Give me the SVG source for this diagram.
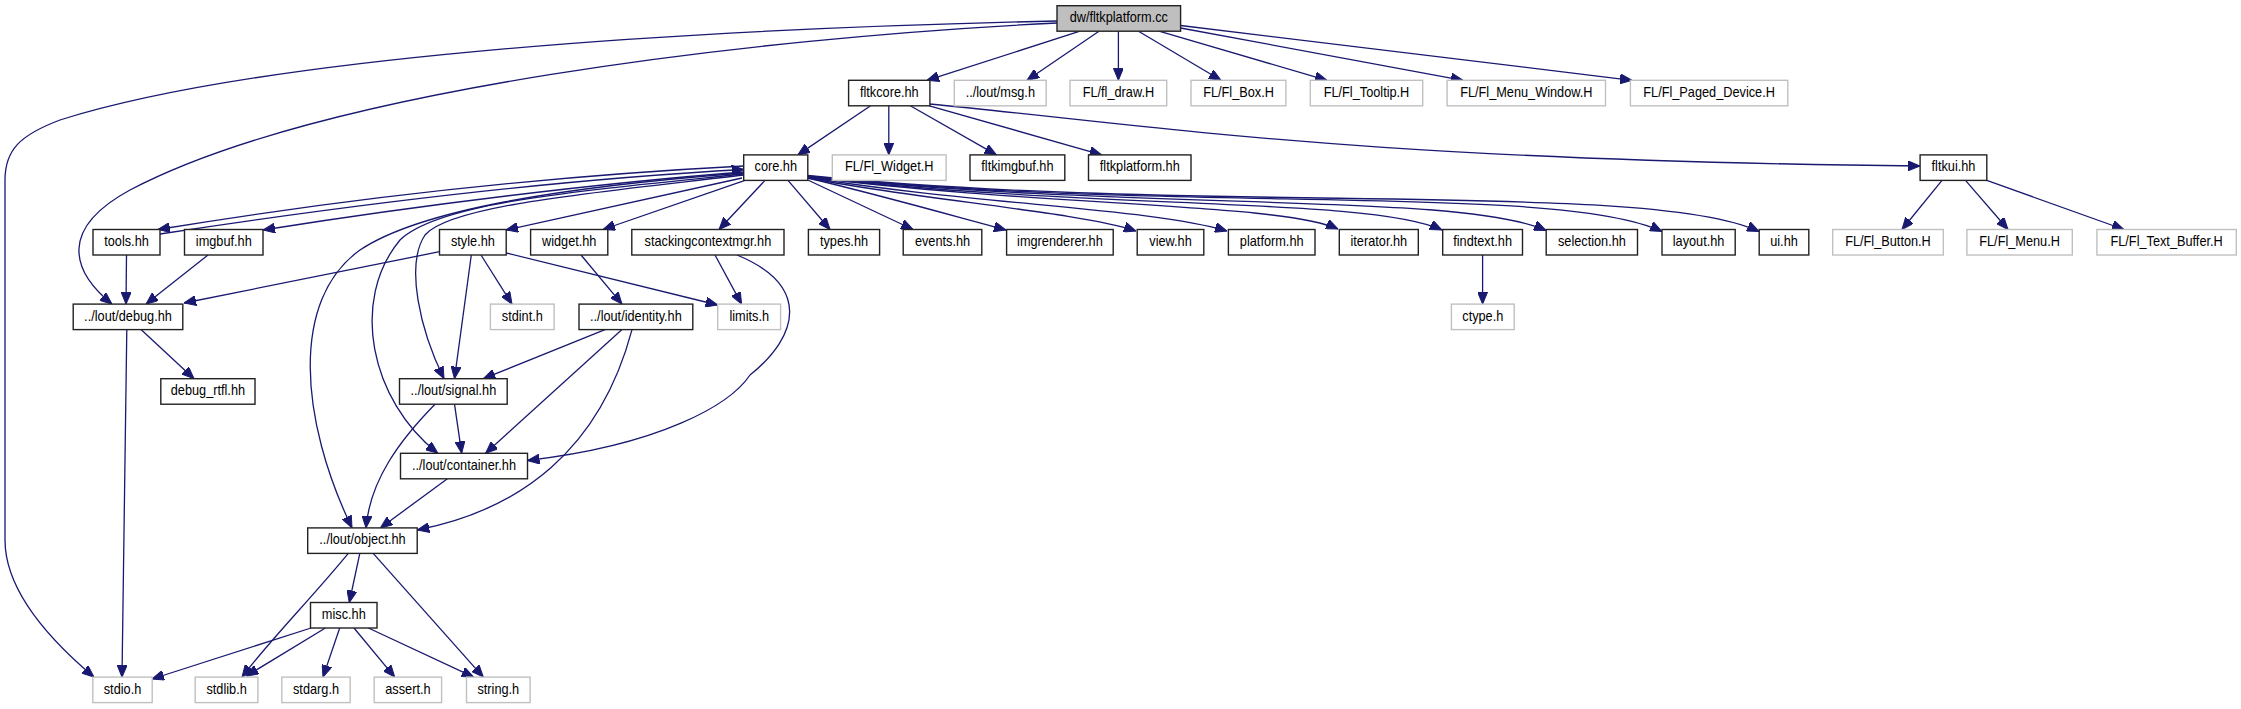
<svg xmlns="http://www.w3.org/2000/svg" width="2241" height="709" viewBox="0 0 2241 709">
<style>
.b{fill:#fff;stroke:#222;stroke-width:1.4}
.g{fill:#fff;stroke:#c0c0c0;stroke-width:1.4}
.r{fill:#bfbfbf;stroke:#222;stroke-width:1.4}
text{font-family:"Liberation Sans",Arial,Helvetica,sans-serif;font-size:14px;text-anchor:middle;fill:#000}
#edges path{fill:none;stroke:#191970;stroke-width:1.3;marker-end:url(#a)}
</style>
<defs>
<marker id="a" viewBox="0 0 12 10" refX="12" refY="5" markerWidth="12" markerHeight="10" markerUnits="userSpaceOnUse" orient="auto"><path d="M0,0 L12,5 L0,10 z" fill="#191970" stroke="#191970" stroke-width="1"/></marker>
</defs>
<rect width="2241" height="709" fill="#fff"/>
<g id="edges">
<path d="M1080,31.2 L927,80.3"/>
<path d="M1099,31.2 L1027,80.3"/>
<path d="M1118.4,31.2 L1118.4,80.3"/>
<path d="M1138.5,31.2 L1221,80.3"/>
<path d="M1159,31.2 L1327,80.3"/>
<path d="M1180.6,28 L1463,80.3"/>
<path d="M1180.6,25.5 L1632,80.3"/>
<path d="M1057,21 C650,30 250,60 60,120 C20,135 5,150 5,180 L5,540 C5,590 50,640 94,677.1"/>
<path d="M1057,23 C750,38 320,90 130,190 C60,228 70,270 112,304.1"/>
<path d="M870.6,105.8 L797.8,154.9"/>
<path d="M888.8,105.8 L888.8,154.9"/>
<path d="M910.3,105.8 L996.4,154.9"/>
<path d="M929.4,105.8 L1101.7,154.9"/>
<path d="M929.4,104 C1150,125 1350,160 1920,166"/>
<path d="M1942,180.4 L1902,229.5"/>
<path d="M1965.5,180.4 L2008,229.5"/>
<path d="M1986.8,180.4 L2124,229.5"/>
<path d="M788,180.4 L830,229.5"/>
<path d="M807.8,180 L913,229.5"/>
<path d="M807.8,178 C880,195 950,215 1006,230"/>
<path d="M807.8,178 C920,200 1080,212 1136,231"/>
<path d="M807.8,177.5 C980,205 1150,208 1227,231"/>
<path d="M807.8,177 C1050,207 1280,203 1338,229"/>
<path d="M807.8,177 C1100,210 1370,197 1442,230"/>
<path d="M807.8,176.5 C1150,212 1460,192 1546,230.5"/>
<path d="M807.8,176 C1170,214 1560,183 1662,231.5"/>
<path d="M807.8,175.5 C1200,215 1650,180 1759,231.5"/>
<path d="M743.7,166 C550,176 350,198 158,229.5"/>
<path d="M160,234 C350,205 550,180 743.7,169.5"/>
<path d="M743.7,172 C600,183 420,205 263,230"/>
<path d="M743.7,173 C560,187 420,210 360,250 C290,300 300,420 352,527.9"/>
<path d="M743.7,174 C580,191 440,202 400,240 C350,300 370,400 437.8,453.3"/>
<path d="M743.7,175 C600,192 450,205 425,235 C405,265 420,330 444,378.7"/>
<path d="M742,178 L506,230"/>
<path d="M745,180.4 L603,229.5"/>
<path d="M765,180.4 L719,229.5"/>
<path d="M126.5,255 L126,304.1"/>
<path d="M208,255 L146,304.1"/>
<path d="M439.5,251.7 L184,303"/>
<path d="M471.3,255 L454.5,378.7"/>
<path d="M481,255 L512,304.1"/>
<path d="M506.2,253 L717.7,305"/>
<path d="M581,255 L622,304.1"/>
<path d="M715,255 L741.6,304.1"/>
<path d="M737,255 C810,285 800,335 750,375 C730,405 660,445 527.5,460.5"/>
<path d="M605,329.6 L483.3,378.7"/>
<path d="M622,329.6 L485.6,453.3"/>
<path d="M632,329.6 C600,450 520,510 417.2,530"/>
<path d="M1482.6,255 L1482.6,304.1"/>
<path d="M141,329.6 L194,378.7"/>
<path d="M126.8,329.6 L122,677.1"/>
<path d="M454.5,404.2 L461.7,453.3"/>
<path d="M435,404.2 C400,440 370,480 366,527.9"/>
<path d="M447.4,478.8 L380.4,527.9"/>
<path d="M359.8,553.4 L349.3,602.5"/>
<path d="M348.3,553.4 C310,600 270,640 242,677.1"/>
<path d="M373.2,553.4 L483.3,677.1"/>
<path d="M311,628 L152,679"/>
<path d="M325.4,628 L246.4,676"/>
<path d="M339.7,628 L323,677.1"/>
<path d="M354,628 L394.7,677.1"/>
<path d="M368.4,628 L473.7,677.1"/>
</g>
<g id="n_root"><rect class="r" x="1057" y="5.7" width="123.6" height="25.5"/><text transform="translate(1118.8,22.2) scale(0.91,1)">dw/fltkplatform.cc</text></g>
<g id="n_fltkcore"><rect class="b" x="848.6" y="80.3" width="81.3" height="25.5"/><text transform="translate(889.3,96.8) scale(0.91,1)">fltkcore.hh</text></g>
<g id="n_msg"><rect class="g" x="954.3" y="80.3" width="91.9" height="25.5"/><text transform="translate(1000.3,96.8) scale(0.91,1)">../lout/msg.h</text></g>
<g id="n_fl_draw"><rect class="g" x="1070" y="80.3" width="96.7" height="25.5"/><text transform="translate(1118.4,96.8) scale(0.91,1)">FL/fl_draw.H</text></g>
<g id="n_fl_box"><rect class="g" x="1191" y="80.3" width="94.9" height="25.5"/><text transform="translate(1238.5,96.8) scale(0.91,1)">FL/Fl_Box.H</text></g>
<g id="n_fl_tooltip"><rect class="g" x="1310.3" y="80.3" width="112.4" height="25.5"/><text transform="translate(1366.5,96.8) scale(0.91,1)">FL/Fl_Tooltip.H</text></g>
<g id="n_fl_menu_window"><rect class="g" x="1447.1" y="80.3" width="158.4" height="25.5"/><text transform="translate(1526.3,96.8) scale(0.91,1)">FL/Fl_Menu_Window.H</text></g>
<g id="n_fl_paged_device"><rect class="g" x="1630.4" y="80.3" width="157.4" height="25.5"/><text transform="translate(1709.1,96.8) scale(0.91,1)">FL/Fl_Paged_Device.H</text></g>
<g id="n_core"><rect class="b" x="743.7" y="154.9" width="64.1" height="25.5"/><text transform="translate(775.8,171.4) scale(0.91,1)">core.hh</text></g>
<g id="n_fl_widget"><rect class="g" x="832.3" y="154.9" width="113.8" height="25.5"/><text transform="translate(889.2,171.4) scale(0.91,1)">FL/Fl_Widget.H</text></g>
<g id="n_fltkimgbuf"><rect class="b" x="970" y="154.9" width="94.8" height="25.5"/><text transform="translate(1017.4,171.4) scale(0.91,1)">fltkimgbuf.hh</text></g>
<g id="n_fltkplatform"><rect class="b" x="1088.5" y="154.9" width="102.5" height="25.5"/><text transform="translate(1139.8,171.4) scale(0.91,1)">fltkplatform.hh</text></g>
<g id="n_fltkui"><rect class="b" x="1920.1" y="154.9" width="66.7" height="25.5"/><text transform="translate(1953.5,171.4) scale(0.91,1)">fltkui.hh</text></g>
<g id="n_tools"><rect class="b" x="93" y="229.5" width="67" height="25.5"/><text transform="translate(126.5,246) scale(0.91,1)">tools.hh</text></g>
<g id="n_imgbuf"><rect class="b" x="184.5" y="229.5" width="78.5" height="25.5"/><text transform="translate(223.8,246) scale(0.91,1)">imgbuf.hh</text></g>
<g id="n_style"><rect class="b" x="439.5" y="229.5" width="66.7" height="25.5"/><text transform="translate(472.9,246) scale(0.91,1)">style.hh</text></g>
<g id="n_widget"><rect class="b" x="530.6" y="229.5" width="77.2" height="25.5"/><text transform="translate(569.2,246) scale(0.91,1)">widget.hh</text></g>
<g id="n_stacking"><rect class="b" x="631.8" y="229.5" width="152.2" height="25.5"/><text transform="translate(707.9,246) scale(0.91,1)">stackingcontextmgr.hh</text></g>
<g id="n_types"><rect class="b" x="808.4" y="229.5" width="71.2" height="25.5"/><text transform="translate(844,246) scale(0.91,1)">types.hh</text></g>
<g id="n_events"><rect class="b" x="903.2" y="229.5" width="78.6" height="25.5"/><text transform="translate(942.5,246) scale(0.91,1)">events.hh</text></g>
<g id="n_imgrenderer"><rect class="b" x="1006.6" y="229.5" width="106.6" height="25.5"/><text transform="translate(1059.9,246) scale(0.91,1)">imgrenderer.hh</text></g>
<g id="n_view"><rect class="b" x="1137.2" y="229.5" width="66.6" height="25.5"/><text transform="translate(1170.5,246) scale(0.91,1)">view.hh</text></g>
<g id="n_platform"><rect class="b" x="1228.4" y="229.5" width="86.6" height="25.5"/><text transform="translate(1271.7,246) scale(0.91,1)">platform.hh</text></g>
<g id="n_iterator"><rect class="b" x="1339.3" y="229.5" width="79" height="25.5"/><text transform="translate(1378.8,246) scale(0.91,1)">iterator.hh</text></g>
<g id="n_findtext"><rect class="b" x="1442.7" y="229.5" width="79.8" height="25.5"/><text transform="translate(1482.6,246) scale(0.91,1)">findtext.hh</text></g>
<g id="n_selection"><rect class="b" x="1546.2" y="229.5" width="91.3" height="25.5"/><text transform="translate(1591.9,246) scale(0.91,1)">selection.hh</text></g>
<g id="n_layout"><rect class="b" x="1662" y="229.5" width="73.2" height="25.5"/><text transform="translate(1698.6,246) scale(0.91,1)">layout.hh</text></g>
<g id="n_ui"><rect class="b" x="1759.2" y="229.5" width="49.6" height="25.5"/><text transform="translate(1784,246) scale(0.91,1)">ui.hh</text></g>
<g id="n_fl_button"><rect class="g" x="1832.7" y="229.5" width="110.6" height="25.5"/><text transform="translate(1888,246) scale(0.91,1)">FL/Fl_Button.H</text></g>
<g id="n_fl_menu"><rect class="g" x="1966.9" y="229.5" width="105.4" height="25.5"/><text transform="translate(2019.6,246) scale(0.91,1)">FL/Fl_Menu.H</text></g>
<g id="n_fl_text_buffer"><rect class="g" x="2096.9" y="229.5" width="139.4" height="25.5"/><text transform="translate(2166.6,246) scale(0.91,1)">FL/Fl_Text_Buffer.H</text></g>
<g id="n_debug"><rect class="b" x="73.2" y="304.1" width="109.6" height="25.5"/><text transform="translate(128,320.6) scale(0.91,1)">../lout/debug.hh</text></g>
<g id="n_stdint"><rect class="g" x="490.4" y="304.1" width="63.7" height="25.5"/><text transform="translate(522.3,320.6) scale(0.91,1)">stdint.h</text></g>
<g id="n_identity"><rect class="b" x="579" y="304.1" width="113.8" height="25.5"/><text transform="translate(635.9,320.6) scale(0.91,1)">../lout/identity.hh</text></g>
<g id="n_limits"><rect class="g" x="717.7" y="304.1" width="62.9" height="25.5"/><text transform="translate(749.2,320.6) scale(0.91,1)">limits.h</text></g>
<g id="n_ctype"><rect class="g" x="1451.4" y="304.1" width="62.8" height="25.5"/><text transform="translate(1482.8,320.6) scale(0.91,1)">ctype.h</text></g>
<g id="n_debug_rtfl"><rect class="b" x="160.8" y="378.7" width="94.2" height="25.5"/><text transform="translate(207.9,395.2) scale(0.91,1)">debug_rtfl.hh</text></g>
<g id="n_signal"><rect class="b" x="399.5" y="378.7" width="107.7" height="25.5"/><text transform="translate(453.4,395.2) scale(0.91,1)">../lout/signal.hh</text></g>
<g id="n_container"><rect class="b" x="400.5" y="453.3" width="127" height="25.5"/><text transform="translate(464,469.8) scale(0.91,1)">../lout/container.hh</text></g>
<g id="n_object"><rect class="b" x="307.7" y="527.9" width="109.5" height="25.5"/><text transform="translate(362.5,544.4) scale(0.91,1)">../lout/object.hh</text></g>
<g id="n_misc"><rect class="b" x="310.5" y="602.5" width="66.5" height="25.5"/><text transform="translate(343.8,619) scale(0.91,1)">misc.hh</text></g>
<g id="n_stdio"><rect class="g" x="92.8" y="677.1" width="59.4" height="25.5"/><text transform="translate(122.5,693.6) scale(0.91,1)">stdio.h</text></g>
<g id="n_stdlib"><rect class="g" x="195.2" y="677.1" width="62.7" height="25.5"/><text transform="translate(226.6,693.6) scale(0.91,1)">stdlib.h</text></g>
<g id="n_stdarg"><rect class="g" x="281.8" y="677.1" width="68.4" height="25.5"/><text transform="translate(316,693.6) scale(0.91,1)">stdarg.h</text></g>
<g id="n_assert"><rect class="g" x="374.2" y="677.1" width="67.4" height="25.5"/><text transform="translate(407.9,693.6) scale(0.91,1)">assert.h</text></g>
<g id="n_string"><rect class="g" x="466.5" y="677.1" width="63.6" height="25.5"/><text transform="translate(498.3,693.6) scale(0.91,1)">string.h</text></g>
</svg>
